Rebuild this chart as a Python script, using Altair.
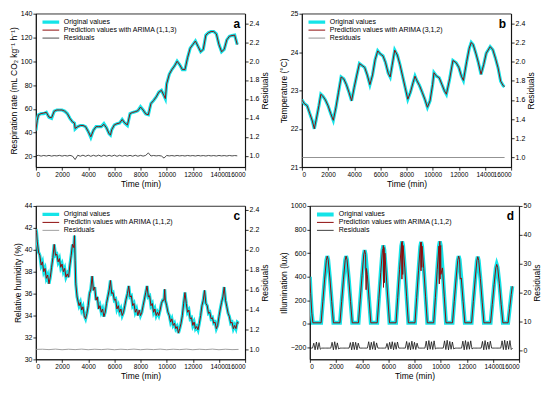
import altair as alt
import pandas as pd

FONT = "Liberation Sans"
CYAN = "#14E4E8"
RED = "#8E0C0C"
W, H = 210, 154

# ---------------- panel a : respiration rate ----------------
a_t = [0,100,200,400,600,800,1000,1200,1400,1600,1800,2000,2200,2400,2600,2800,2950,
       3000,3200,3400,3600,3800,4000,4200,4400,4600,4800,5000,5200,5400,5600,5700,5800,
       6000,6200,6400,6600,6800,7000,7200,7400,7600,7800,8000,8200,8400,8600,8700,8800,
       9000,9200,9400,9600,9800,9900,10000,10200,10400,10600,10800,11000,11200,11400,11600,11800,
       12000,12200,12400,12600,12800,13000,13200,13400,13600,13800,14000,14200,14400,14600,14800,
       15000,15200,15400]
a_orig = [42,51,55,56,56,57,53,52,58,59,59,59,58,56,52,49,48,
          43,45,46,46,45,41,36,42,45,45,45,47.5,44,39,38,42.5,
          46.5,47.5,48,51,48,46,56,57,57.6,58.4,61.7,59,55.7,55,60,64.5,
          67,70,74,75.5,71,68.6,81,89,93,96,100,97,93,93,103,111,
          114,117,112.5,108,110,122,124,125,125,123,114,108,110,118,121,
          121.6,122,114]
a_pred = [42,50,55,56,56.5,57,53,52.5,58,59,59,59,58,56,52,49,48,
          43.5,45,46,46,45,41,36.5,42,45,45,45,47,44,39,38,42.5,
          46.5,47.5,48,51,48,46.5,56,57,57.6,58.4,61.5,59,55.7,55,60,64.5,
          67,70,74,75.5,71,68.6,81,89,93,96,100,97,93,93,103,111,
          114,117,112.5,108,110,122,124,125,125,123,114,108,110,118,121,
          121.6,122,114]
a_res_t = list(range(0, 15600, 200))
a_res = [1.0,1.004,0.996,1.003,0.997,1.004,0.996,1.002,0.998,1.004,
         0.996,1.003,0.997,1.004,0.996,0.96,1.005,0.995,1.006,0.994,
         1.006,0.994,1.005,0.995,1.006,0.994,1.006,0.995,1.005,0.995,
         1.006,0.994,1.005,0.995,1.004,0.996,1.004,0.995,1.005,0.995,
         1.004,0.996,1.004,1.03,0.997,1.003,0.998,1.002,0.997,0.975,
         1.003,0.998,1.002,0.997,1.003,0.998,1.002,0.997,1.003,0.998,
         1.002,0.997,1.003,0.998,1.002,0.997,1.003,0.998,1.002,0.997,
         1.003,0.998,1.002,0.997,1.003,0.998,1.002,0.999]

# ---------------- panel b : temperature ----------------
b_t = [0,200,400,600,800,950,1100,1300,1450,1600,1800,2000,2200,2400,2600,2800,
       3000,3200,3400,3600,3800,4000,4200,4400,4600,4800,5000,5200,5400,5600,5800,
       6000,6200,6400,6600,6750,6900,7100,7300,7500,7700,7900,8100,8300,8500,8650,8800,
       9000,9200,9400,9600,9800,10000,10100,10300,10500,10700,10900,11050,11300,11550,11800,
       12000,12200,12350,12600,12800,12950,13100,13300,13500,13700,13900,14100,14400,14600,14800,
       15000,15200,15400,15500]
b_orig = [22.75,22.65,22.6,22.4,22.2,22.0,22.25,22.6,22.9,22.85,22.75,22.6,22.4,22.22,22.55,22.95,
          23.35,23.3,23.15,22.95,22.73,23.08,23.4,23.7,23.65,23.6,23.4,23.15,23.4,23.8,24.03,
          23.95,23.9,23.72,23.45,23.35,23.65,24.05,23.92,23.67,23.37,23.07,22.77,22.95,23.2,23.37,23.25,
          23.12,22.95,22.77,22.56,22.73,23.16,23.46,23.37,23.33,23.16,22.99,22.9,23.3,23.78,23.72,
          23.6,23.37,23.26,23.75,24.1,24.25,24.19,23.97,23.72,23.42,23.67,23.97,24.14,24.06,23.84,
          23.59,23.24,23.12,23.1]
b_res_t = [0, 15500]
b_res = [1.0, 1.0]

# ---------------- panel c : relative humidity ----------------
c_t = [0,50,100,200,300,400,500,600,700,800,900,1000,1100,1200,1300,1400,1500,1600,1700,1800,1900,
       2000,2100,2200,2300,2400,2500,2600,2700,2800,2900,2950,3000,3050,3150,3300,3400,3500,3600,3700,3800,3900,
       4000,4100,4200,4300,4400,4500,4600,4700,4800,4900,5000,5100,5200,5300,5400,5500,5600,5700,5800,5900,
       6000,6100,6200,6300,6400,6500,6600,6700,6800,6900,7000,7100,7200,7300,7400,7500,7600,7700,7800,7900,
       8000,8100,8200,8300,8400,8500,8600,8700,8800,8900,9000,9100,9200,9300,9400,9500,9600,9700,9800,9850,9900,
       10000,10100,10200,10300,10400,10500,10600,10700,10800,10900,11000,11100,11200,11300,11400,11500,11600,11700,11800,11900,
       12000,12100,12200,12300,12400,12500,12600,12700,12800,12900,13000,13100,13200,13300,13400,13500,13600,13700,13800,13900,
       14000,14100,14200,14300,14400,14500,14600,14700,14800,14900,15000,15100,15200,15300,15400,15500]
c_orig = [41.9,41.6,40.8,39.8,39.5,38.6,38.9,38.0,38.3,37.4,37.7,36.9,37.5,38.4,39.3,40.5,39.5,39.6,38.9,39.2,38.4,
          38.7,38.0,38.3,37.5,37.8,37.5,38.6,39.5,40.5,40.2,41.3,39.0,36.9,35.7,34.9,35.2,34.5,34.8,34.0,33.7,34.2,
          34.9,36.0,36.4,37.6,36.3,36.6,35.4,35.7,34.6,34.9,34.3,34.6,33.9,34.3,35.1,35.7,36.3,37.2,36.0,36.1,
          35.4,35.5,34.6,34.9,34.3,34.6,34.0,34.3,34.9,35.5,36.0,36.7,35.7,35.8,34.9,35.1,34.3,34.6,34.0,34.5,
          34.0,34.3,34.9,35.5,36.1,36.7,35.7,35.8,34.9,35.1,34.3,34.6,34.0,34.3,34.0,34.5,35.1,35.4,35.4,36.4,35.4,
          34.9,34.3,34.0,33.4,33.7,33.1,33.3,32.8,33.0,32.4,32.8,33.3,34.0,35.1,36.1,35.1,34.3,34.5,33.7,33.8,
          33.1,33.4,32.8,33.0,32.7,33.3,34.0,34.9,35.4,36.3,35.1,34.9,34.2,34.3,33.7,33.8,33.3,33.4,32.8,33.1,
          33.9,34.6,35.2,35.7,36.6,35.4,34.8,34.2,33.9,33.3,33.4,32.8,33.1,32.8,33.4,33.3]
c_res_t = list(range(0, 15600, 500))
c_res = [1.0,1.002,0.998,1.003,0.997,1.002,0.998,1.003,0.997,1.002,0.998,1.003,0.997,1.002,0.998,1.003,
         0.997,1.002,0.998,1.003,0.997,1.002,0.998,1.003,0.997,1.002,0.998,1.003,0.997,1.002,0.998,1.0]

# ---------------- panel d : illumination ----------------
d_t = [0,60,150,230,
       860,990,1130,1260,1330,1400,1530,1670,1800,
       2300,2430,2570,2700,2770,2840,2970,3110,3240,
       3720,3850,3990,4120,4190,4260,4390,4530,4660,
       5150,5280,5420,5550,5620,5690,5820,5960,6090,
       6590,6720,6860,6990,7060,7130,7260,7400,7530,
       8040,8170,8310,8440,8510,8580,8710,8850,8980,
       9470,9600,9740,9870,9940,10010,10140,10280,10410,
       10910,11040,11180,11310,11380,11450,11580,11720,11850,
       12370,12500,12640,12770,12840,12910,13040,13180,13310,
       13820,13950,14090,14220,14290,14360,14490,14630,14760,
       15160,15280,15400,15480]
d_orig = [400,260,90,10,
          10,190,380,540,575,545,390,190,10,
          10,190,380,540,575,545,390,190,10,
          10,205,410,585,625,590,420,205,10,
          10,215,435,625,665,630,450,220,10,
          10,225,460,660,700,665,475,230,10,
          10,225,455,655,695,660,470,230,10,
          10,225,460,660,700,665,475,230,10,
          10,190,380,540,575,545,390,190,10,
          10,190,375,535,570,540,385,185,10,
          10,165,335,475,505,480,345,165,10,
          10,130,250,320]
# extra points where the ARIMA prediction departs from the measured curve
d_pred_t = [4300,4330,5600,5630,5660,5700,5740,7020,7040,7070,7100,
            8480,8500,8530,8560,9880,9900,9930,9960,9990,10020,11470,11500]
d_pred_v = [290,470,640,310,650,350,600,690,380,690,420,
            690,450,680,480,600,340,690,380,650,420,500,380]
d_res_t = list(range(0, 15600, 100))
d_res = [0.9,0.9,0.9,2.6,0.3,3.0,0.4,2.8,0.5,0.9,
         0.9,0.9,0.9,0.9,0.9,0.9,0.9,2.9,0.3,3.1,
         0.4,2.7,0.6,0.9,0.9,0.9,0.9,0.9,0.9,0.9,
         0.9,2.8,0.3,3.0,0.4,2.9,0.3,2.6,0.9,0.9,
         0.9,0.9,0.9,0.9,0.9,3.1,0.3,2.9,0.5,3.2,
         0.3,2.7,0.9,0.9,0.9,0.9,0.9,0.9,0.9,2.5,
         0.4,2.9,0.6,3.1,0.3,2.8,0.5,3.0,0.9,0.9,
         0.9,0.9,0.9,0.9,3.2,0.4,2.8,0.3,3.3,0.5,
         2.9,0.4,2.6,0.9,0.9,0.9,0.9,0.9,0.9,3.3,
         0.3,3.5,0.5,3.1,0.4,3.4,0.6,0.9,0.9,0.9,
         0.9,0.9,0.9,3.4,0.4,3.6,0.3,3.2,0.5,3.0,
         0.6,0.9,0.9,0.9,0.9,0.9,0.9,3.3,0.3,3.5,
         0.4,3.1,0.5,3.4,0.6,0.9,0.9,0.9,0.9,0.9,
         0.9,0.9,3.2,0.3,3.5,0.4,3.0,0.5,3.3,0.9,
         0.9,0.9,0.9,0.9,0.9,0.9,0.9,3.4,0.4,3.6,
         0.3,3.3,0.5,3.5,0.4,0.9]

assert len(a_t) == len(a_orig) == len(a_pred)
assert len(a_res_t) == len(a_res)
assert len(b_t) == len(b_orig)
assert len(c_t) == len(c_orig)
assert len(c_res_t) == len(c_res)
assert len(d_t) == len(d_orig)
assert len(d_pred_t) == len(d_pred_v)
assert len(d_res_t) == len(d_res)

# prediction for d = measured points plus the departing points
_pd = dict(zip(d_t, d_orig))
_pd.update(dict(zip(d_pred_t, d_pred_v)))
d_pt = sorted(_pd)
d_pv = [_pd[k] for k in d_pt]

X_TICKS = list(range(0, 16001, 2000))


def panel(t_o, v_o, t_p, v_p, t_r, v_r, names, res_color, ydom, yticks, ytitle,
          rdom, rticks, rfmt, letter, cyan_w):
    df_o = pd.DataFrame({"t": t_o, "v": v_o, "s": names[0]})
    df_p = pd.DataFrame({"t": t_p, "v": v_p, "s": names[1]})
    df_r = pd.DataFrame({"t": t_r, "v": v_r, "s": names[2]})
    leg = alt.Legend(orient="top-left", title=None, symbolType="stroke", symbolSize=280,
                     labelFontSize=7, labelFont=FONT, labelColor="black", offset=5,
                     rowPadding=0, padding=0, clipHeight=7, labelOffset=3)
    color = alt.Color("s:N", scale=alt.Scale(domain=names, range=[CYAN, RED, res_color]), legend=leg)
    sw = alt.StrokeWidth("s:N", scale=alt.Scale(type="ordinal", domain=names, range=[cyan_w, 1.0, 0.8]),
                         legend=leg)
    x = alt.X("t:Q", scale=alt.Scale(domain=[0, 16000], nice=False),
              axis=alt.Axis(values=X_TICKS, title="Time (min)", grid=False, format="d",
                            labelOverlap=False, labelFontSize=6.5))
    y = alt.Y("v:Q", scale=alt.Scale(domain=ydom, nice=False, zero=False),
              axis=alt.Axis(values=yticks, title=ytitle, grid=False, format="d", labelOverlap=False))
    yr = alt.Y("v:Q", scale=alt.Scale(domain=rdom, nice=False, zero=False),
               axis=alt.Axis(values=rticks, title="Residuals", orient="right", grid=False,
                             format=rfmt, titleAngle=270, titleBaseline="top", labelOverlap=False))
    lo = alt.Chart(df_o).mark_line(clip=True).encode(x=x, y=y, color=color, strokeWidth=sw)
    lp = alt.Chart(df_p).mark_line(clip=True).encode(x=x, y=y, color=color, strokeWidth=sw)
    tag = alt.Chart(pd.DataFrame({"l": [letter]})).mark_text(
        font=FONT, fontSize=12, fontWeight="bold", align="right", baseline="top", color="black"
    ).encode(text="l:N", x=alt.value(W - 5), y=alt.value(5))
    lr = alt.Chart(df_r).mark_line(clip=True).encode(x=x, y=yr, color=color, strokeWidth=sw)
    left = alt.layer(lo, lp, tag)
    return alt.layer(left, lr).resolve_scale(y="independent").properties(width=W, height=H)


pa = panel(a_t, a_orig, a_t, a_pred, a_res_t, a_res,
           ["Original values", "Prediction values with ARIMA (1,1,3)", "Residuals"], "#222222",
           [11, 140], list(range(20, 141, 20)), "Respiration rate (mL CO\u2082 kg\u207b\u00b9 h\u207b\u00b9)",
           [0.88, 2.5], [1.0, 1.2, 1.4, 1.6, 1.8, 2.0, 2.2, 2.4], ".1f", "a", 3.2)
pb = panel(b_t, b_orig, b_t, b_orig, b_res_t, b_res,
           ["Original values", "Prediction values with ARIMA (3,1,2)", "Residuals"], "#777777",
           [21, 25], [21, 22, 23, 24, 25], "Temperature (\u00b0C)",
           [0.9, 2.5], [1.0, 1.2, 1.4, 1.6, 1.8, 2.0, 2.2, 2.4], ".1f", "b", 3.2)
pc = panel(c_t, c_orig, c_t, c_orig, c_res_t, c_res,
           ["Original values", "Predictin values with ARIMA (1,1,2)", "Residuals"], "#888888",
           [30, 44], list(range(30, 45, 2)), "Relative humidity (%)",
           [0.9, 2.44], [1.0, 1.2, 1.4, 1.6, 1.8, 2.0, 2.2, 2.4], ".1f", "c", 3.2)
pd_ = panel(d_t, d_orig, d_pt, d_pv, d_res_t, d_res,
            ["Original values", "Prediction values with ARIMA (1,1,2)", "Residuals"], "#111111",
            [-300, 1000], list(range(-200, 1001, 200)), "Illumination (lux)",
            [-3, 50], [0, 10, 20, 30, 40, 50], "d", "d", 4.0)

res = dict(color="independent", strokeWidth="independent", x="independent", y="independent")
row1 = alt.hconcat(pa, pb, spacing=8).resolve_scale(**res)
row2 = alt.hconcat(pc, pd_, spacing=8).resolve_scale(**res)
chart = alt.vconcat(row1, row2, spacing=12).resolve_scale(**res).properties(padding=0).configure_axis(
    labelFont=FONT, titleFont=FONT, labelFontSize=7, titleFontSize=8.5, titleFontWeight="normal",
    labelColor="black", titleColor="black", domainColor="black", tickColor="black",
    tickSize=3, labelPadding=1, titlePadding=2, domainWidth=0.8, tickWidth=0.8,
).configure_view(stroke="black", strokeWidth=0.8)

chart.save("out.html", embed_options={"renderer": "svg", "actions": False})
